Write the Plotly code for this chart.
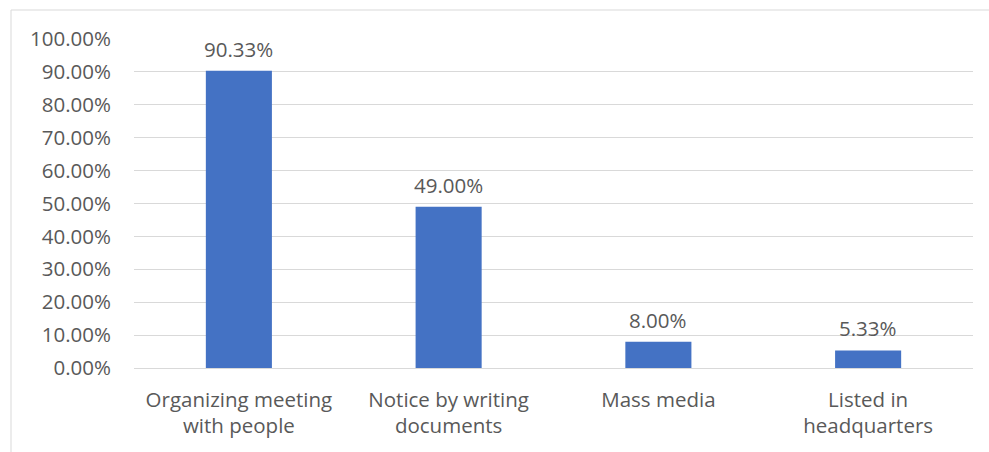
import plotly.graph_objects as go

# Communication channels and the share of respondents reached by each
categories = [
    "Organizing meeting<br>with people",
    "Notice by writing<br>documents",
    "Mass media",
    "Listed in<br>headquarters",
]
shares = [0.9033, 0.49, 0.08, 0.0533]

y_ticks = [i / 10 for i in range(11)]
y_tick_labels = [f"{v * 100:.2f}%" for v in y_ticks]

W, H = 989, 452
ML, MR, MT, MB = 134, 16, 39, 84
PW, PH = W - ML - MR, H - MT - MB

TEXT = "#595959"
GRID = "#d9d9d9"
FONT = "Open Sans"
FS = 20.5

fig = go.Figure(
    go.Bar(
        x=categories,
        y=shares,
        marker=dict(color="#4472c4", line=dict(width=0)),
        width=0.315,
        hoverinfo="skip",
    )
)

# Value labels above each bar
for cat, val in zip(categories, shares):
    fig.add_annotation(
        x=cat, y=val,
        text=f"{val * 100:.2f}%",
        showarrow=False,
        yanchor="bottom",
        yshift=6,
        font=dict(family=FONT, size=FS, color=TEXT),
    )

# Light outer frame of the chart area
fig.add_shape(
    type="rect",
    xref="paper", yref="paper",
    x0=(11 - ML) / PW, x1=(995 - ML) / PW,
    y0=(MT + PH - 470) / PH, y1=1 + (MT - 10) / PH,
    line=dict(color=GRID, width=1),
    layer="below",
)

fig.update_layout(
    width=W, height=H,
    margin=dict(l=ML, r=MR, t=MT, b=MB),
    paper_bgcolor="white",
    plot_bgcolor="white",
    showlegend=False,
    font=dict(family=FONT, color=TEXT, size=FS),
    xaxis=dict(
        showgrid=False,
        showline=False,
        ticks="",
        tickfont=dict(family=FONT, size=FS, color=TEXT),
        ticklabelstandoff=17,
    ),
    yaxis=dict(
        range=[0, 1],
        tickvals=y_ticks,
        ticktext=y_tick_labels,
        showgrid=True,
        gridcolor=GRID,
        gridwidth=1,
        zeroline=True,
        zerolinecolor=GRID,
        zerolinewidth=1,
        showline=False,
        ticks="",
        tickfont=dict(family=FONT, size=FS, color=TEXT),
        ticklabelstandoff=22,
    ),
)

fig.write_html("out.html")
